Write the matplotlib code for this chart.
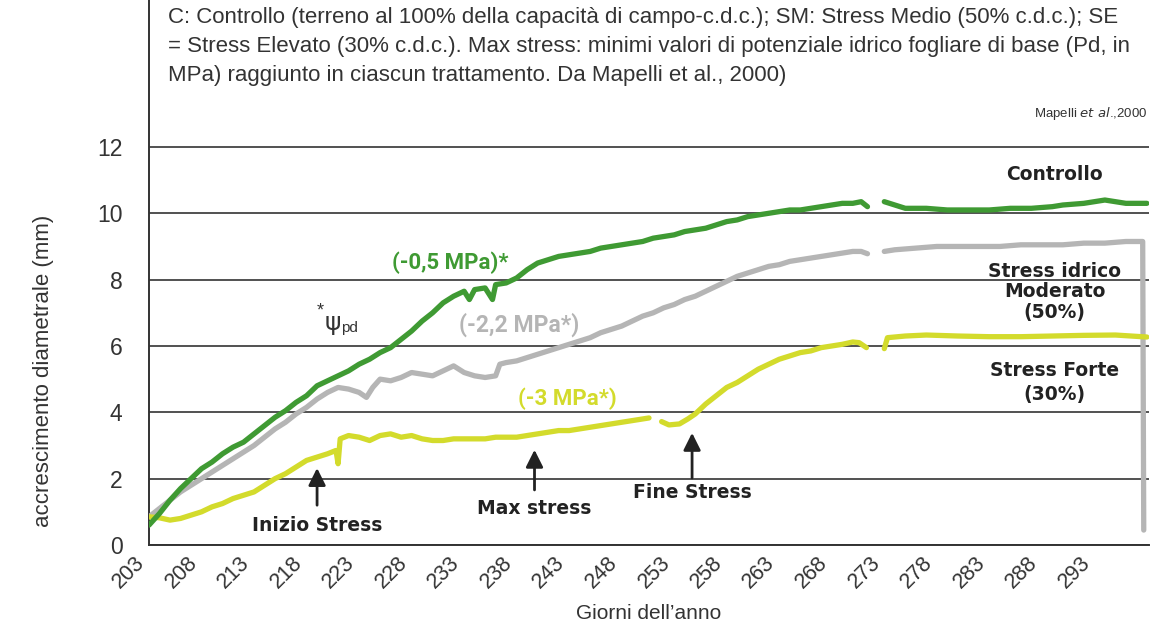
import numpy as np
import matplotlib.pyplot as plt

nan = float('nan')

# Controllo (100% c.d.c.)
control_days = [203, 204, 205, 206, 207, 208, 209, 210, 211, 212, 213, 214, 215, 216, 217,
                218, 219, 220, 221, 222, 223, 224, 225, 226, 227, 228, 229, 230, 231, 232,
                233, 233.5, 234, 235, 235.7, 236, 237, 238, 239, 240, 241, 242, 243, 244,
                245, 246, 247, 248, 249, 250, 251, 252, 253, 254, 255, 256, 257, 258, 259,
                260, 261, 262, 263, 264, 265, 266, 267, 268, 269, 270, 270.8, 271.4, 272.2,
                273.0, 274, 275, 277, 279, 281, 283, 285, 287, 289, 290, 292, 294, 296, 298]
control_vals = [0.6, 0.95, 1.35, 1.7, 2.0, 2.3, 2.5, 2.75, 2.95, 3.1, 3.35, 3.6, 3.85, 4.05, 4.3,
                4.5, 4.8, 4.95, 5.1, 5.25, 5.45, 5.6, 5.8, 5.95, 6.2, 6.45, 6.75, 7.0, 7.3, 7.5,
                7.65, 7.4, 7.7, 7.75, 7.4, 7.85, 7.9, 8.05, 8.3, 8.5, 8.6, 8.7, 8.75, 8.8,
                8.85, 8.95, 9.0, 9.05, 9.1, 9.15, 9.25, 9.3, 9.35, 9.45, 9.5, 9.55, 9.65, 9.75, 9.8,
                9.9, 9.95, 10.0, 10.05, 10.1, 10.1, 10.15, 10.2, 10.25, 10.3, 10.3, 10.35, 10.2, nan,
                10.35, 10.25, 10.15, 10.15, 10.1, 10.1, 10.1, 10.15, 10.15, 10.2, 10.25, 10.3, 10.4, 10.3, 10.3]

# Stress idrico moderato (50% c.d.c.)
moderate_days = [203, 204, 205, 206, 207, 208, 209, 210, 211, 212, 213, 214, 215, 216, 217,
                 218, 219, 220, 221, 222, 223, 223.7, 224.3, 225, 226, 227, 228, 229, 230, 231,
                 232, 233, 234, 235, 236, 236.4, 237, 238, 239, 240, 241, 242, 243, 244, 245,
                 246, 247, 248, 249, 250, 251, 252, 253, 254, 255, 256, 257, 258, 259, 260,
                 261, 262, 263, 264, 265, 266, 267, 268, 269, 270, 270.8, 271.4, 272.2,
                 273, 274, 276, 278, 280, 282, 284, 286, 288, 290, 292, 294, 296, 297.6, 297.7]
moderate_vals = [0.85, 1.1, 1.35, 1.6, 1.8, 2.0, 2.2, 2.4, 2.6, 2.8, 3.0, 3.25, 3.5, 3.7, 3.95,
                 4.15, 4.4, 4.6, 4.75, 4.7, 4.6, 4.45, 4.75, 5.0, 4.95, 5.05, 5.2, 5.15, 5.1, 5.25,
                 5.4, 5.2, 5.1, 5.05, 5.1, 5.45, 5.5, 5.55, 5.65, 5.75, 5.85, 5.95, 6.05, 6.15, 6.25,
                 6.4, 6.5, 6.6, 6.75, 6.9, 7.0, 7.15, 7.25, 7.4, 7.5, 7.65, 7.8, 7.95, 8.1, 8.2,
                 8.3, 8.4, 8.45, 8.55, 8.6, 8.65, 8.7, 8.75, 8.8, 8.85, 8.85, 8.78, nan,
                 8.85, 8.9, 8.95, 9.0, 9.0, 9.0, 9.0, 9.05, 9.05, 9.05, 9.1, 9.1, 9.15, 9.15, 0.45]

# Stress forte (30% c.d.c.)
severe_days = [203, 204, 205, 206, 207, 208, 209, 210, 211, 212, 213, 214, 215, 216, 217,
               218, 219, 220, 220.8, 221.0, 221.2, 222, 223, 224, 225, 226, 227, 228, 229, 230,
               231, 232, 233, 234, 235, 236, 237, 238, 239, 240, 241, 242, 243, 244, 245,
               246, 247, 248, 249, 250, 250.6, 251.2, 251.8, 252.5, 253.5, 254.3, 255, 256, 257,
               258, 259, 260, 261, 262, 263, 264, 265, 266, 267, 268, 269, 270, 270.6, 271.3,
               272.2, 273.0, 273.3, 275, 277, 280, 283, 286, 289, 292, 295, 298]
severe_vals = [0.85, 0.82, 0.75, 0.8, 0.9, 1.0, 1.15, 1.25, 1.4, 1.5, 1.6, 1.8, 2.0, 2.15, 2.35,
               2.55, 2.65, 2.75, 2.85, 2.45, 3.2, 3.3, 3.25, 3.15, 3.3, 3.35, 3.25, 3.3, 3.2, 3.15,
               3.15, 3.2, 3.2, 3.2, 3.2, 3.25, 3.25, 3.25, 3.3, 3.35, 3.4, 3.45, 3.45, 3.5, 3.55,
               3.6, 3.65, 3.7, 3.75, 3.8, 3.83, nan, 3.72, 3.62, 3.65, 3.8, 3.95, 4.25, 4.5,
               4.75, 4.9, 5.1, 5.3, 5.45, 5.6, 5.7, 5.8, 5.85, 5.95, 6.0, 6.05, 6.12, 6.1, 5.95,
               nan, 5.92, 6.25, 6.3, 6.33, 6.3, 6.28, 6.28, 6.3, 6.32, 6.33, 6.27]

day_ticks = list(range(203, 294, 5))
y_ticks = [0, 2, 4, 6, 8, 10, 12]

GREEN = '#3f9a33'
GREY = '#b5b5b5'
YELLOW = '#d3db2c'
INK = '#222222'
TEXT = '#333333'

body = 'Liberation Sans'
label_font = 'DejaVu Sans'

fig = plt.figure(figsize=(11.53, 6.30), dpi=100)
ax = fig.add_axes([149 / 1153, 85 / 630, 1 - 149 / 1153 - 4 / 1153, 545 / 630])

ax.plot(moderate_days, moderate_vals, color=GREY, lw=3.8, solid_capstyle='round', zorder=3)
ax.plot(severe_days, severe_vals, color=YELLOW, lw=3.8, solid_capstyle='round', zorder=3)
ax.plot(control_days, control_vals, color=GREEN, lw=3.8, solid_capstyle='round', zorder=4)

ax.set_xlim(203, 298.2)
ax.set_ylim(0, 16.43)
ax.set_yticks(y_ticks)
ax.set_xticks(day_ticks)
ax.set_yticklabels([str(v) for v in y_ticks], family=body, fontsize=16.5, color=TEXT)
ax.set_xticklabels([str(d) for d in day_ticks], family=body, fontsize=15.5,
                   rotation=45, ha='right', va='top', color=TEXT)
ax.tick_params(axis='x', length=0, pad=5)
ax.tick_params(axis='y', length=0, pad=19)

ax.grid(axis='y', color=TEXT, lw=1.2, zorder=1)
ax.spines['top'].set_visible(False)
ax.spines['right'].set_visible(False)
for side in ('left', 'bottom'):
    ax.spines[side].set_color(TEXT)
    ax.spines[side].set_linewidth(1.4)

ax.set_ylabel('accrescimento diametrale (mm)', family=body, fontsize=16, color=TEXT)
ax.yaxis.set_label_coords(-0.095, 0.32)
ax.set_xlabel('Giorni dell\u2019anno', family=body, fontsize=15, color=TEXT)
ax.xaxis.set_label_coords(0.5, -0.108)

# water potential labels
ax.text(231.7, 8.5, '(-0,5 MPa)*', color=GREEN, fontsize=16, fontweight='bold',
        family='Roboto', ha='center', va='center')
ax.text(238.2, 6.63, '(-2,2 MPa*)', color=GREY, fontsize=16.5, fontweight='bold',
        family='Roboto', ha='center', va='center')
ax.text(242.8, 4.4, '(-3 MPa*)', color=YELLOW, fontsize=16, fontweight='bold',
        family='Roboto', ha='center', va='center')

# *psi_pd note
ax.text(219.0, 7.05, '*', color=TEXT, fontsize=13, family=body, ha='left', va='center')
ax.text(219.7, 6.7, '\u03c8', color=TEXT, fontsize=18, family='DejaVu Sans', ha='left', va='center')
ax.text(221.3, 6.55, 'pd', color=TEXT, fontsize=11, family=body, ha='left', va='center')

# treatment names
ax.text(289.2, 11.16, 'Controllo', color=INK, fontsize=13.5, fontweight='bold',
        family=label_font, ha='center', va='center')
ax.text(289.2, 7.63, 'Stress idrico\nModerato\n(50%)', color=INK, fontsize=13.5,
        fontweight='bold', family=label_font, ha='center', va='center', linespacing=1.1)
ax.text(289.2, 4.9, 'Stress Forte\n(30%)', color=INK, fontsize=13.5, fontweight='bold',
        family=label_font, ha='center', va='center', linespacing=1.3)

# stress phase markers
markers = [(219.0, 2.32, 1.2, 0.6, 'Inizio Stress'),
           (239.7, 2.87, 1.66, 1.09, 'Max stress'),
           (254.7, 3.38, 2.02, 1.57, 'Fine Stress')]
for day, tip, tail, text_y, name in markers:
    ax.annotate('', xy=(day, tip), xytext=(day, tail),
                arrowprops=dict(arrowstyle='-|>', color=INK, lw=2, mutation_scale=26,
                                shrinkA=0, shrinkB=0))
    ax.text(day, text_y, name, color=INK, fontsize=13.5, fontweight='bold',
            family=label_font, ha='center', va='center')

caption = ('C: Controllo (terreno al 100% della capacità di campo-c.d.c.); SM: Stress Medio (50% c.d.c.); SE\n'
           '= Stress Elevato (30% c.d.c.). Max stress: minimi valori di potenziale idrico fogliare di base (Pd, in\n'
           'MPa) raggiunto in ciascun trattamento. Da Mapelli et al., 2000)')
fig.text(168 / 1153, 1 - 7 / 630, caption, family=body, fontsize=16, color=TEXT,
         ha='left', va='top', linespacing=1.5)

fig.text(1147 / 1153, 1 - 113 / 630, r'Mapelli $\it{et\ al}$.,2000', family=body, fontsize=9.5,
         color=TEXT, ha='right', va='center')

fig.savefig('out.png', dpi=100)
